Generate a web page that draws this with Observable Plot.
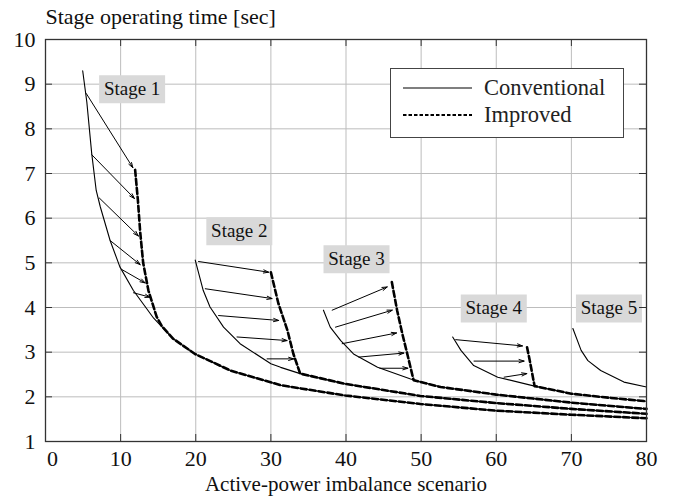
<!DOCTYPE html>
<html><head><meta charset="utf-8">
<script src="https://cdn.jsdelivr.net/npm/d3@7"></script>
<script src="https://cdn.jsdelivr.net/npm/@observablehq/plot@0.6"></script>
<style>
body{margin:0;background:#fff;}
#wrap{position:relative;width:680px;height:497px;}
#legend{position:absolute;left:390px;top:68px;}
</style></head><body><div id="wrap"></div>
<script>
// ---------- data ----------
const xTicks = [0, 10, 20, 30, 40, 50, 60, 70, 80];
const yTicks = [1, 2, 3, 4, 5, 6, 7, 8, 9, 10];
const titleText = "Stage operating time [sec]";
const xLabelText = "Active-power imbalance scenario";
const legendLabels = ["Conventional", "Improved"];

const stageNames = ["Stage 1", "Stage 2", "Stage 3", "Stage 4", "Stage 5"];
const stageLabelX = [11.53, 25.8, 41.4, 59.67, 75.0];
const stageLabelY = [8.887, 5.705, 5.078, 3.98, 3.98];

// conventional curves [x, y]
const stage1Conventional = [[4.95,9.3],[5.5,8.6],[6.15,7.45],[6.75,6.62],[7.3,6.25],[8.6,5.5],[9.9,4.91],[11.7,4.38],[14.4,3.76],[17,3.3],[19.9,2.96],[24.6,2.59],[31.3,2.26],[39.9,2.03],[49.9,1.84],[60,1.69],[70,1.60],[80,1.52]];
const stage2Conventional = [[19.93,5.06],[21.0,4.38],[21.9,4.01],[23.7,3.56],[25.9,3.19],[30,2.74],[31.3,2.66],[33.9,2.52],[39.9,2.29],[49.9,2.02],[60,1.86],[70,1.73],[80,1.62]];
const stage3Conventional = [[37.0,3.94],[37.9,3.56],[39.3,3.26],[41.0,2.96],[44.2,2.66],[48.6,2.40],[52.6,2.22],[60,2.05],[70,1.87],[80,1.73]];
const stage4Conventional = [[54.2,3.34],[55.3,3.04],[57.0,2.70],[60.2,2.44],[65.1,2.24],[70,2.07],[75,1.98],[80,1.90]];
const stage5Conventional = [[70.2,3.53],[71.3,3.04],[72.2,2.81],[73.9,2.59],[77.0,2.33],[80,2.22]];

// improved curves: the part before they rejoin the conventional curve
const stage1ImprovedHead = [[11.93,7.08],[12.3,6.4],[12.6,5.7],[13.0,5.0],[13.7,4.38],[14.8,3.79],[15.5,3.58]];
const stage2ImprovedHead = [[30.0,4.79],[31.0,4.09],[32.2,3.49],[33.0,2.96],[33.9,2.52]];
const stage3ImprovedHead = [[46.1,4.57],[46.8,3.94],[47.5,3.41],[48.2,2.93],[49.0,2.37]];
const stage4ImprovedHead = [[64.1,3.11],[64.5,2.78],[65.1,2.24]];

// arrows [x1, y1, x2, y2]
const stage1Arrows = [[5.43,8.79,11.63,7.13],[6.16,7.42,11.84,6.44],[7.17,6.45,12.37,5.60],[8.6,5.50,12.6,4.96],[10.16,4.85,13.27,4.55],[11.71,4.33,13.93,4.23]];
const stage2Arrows = [[20.37,5.03,29.7,4.79],[21.27,4.42,30.16,4.20],[23.04,3.82,31.04,3.71],[25.49,3.34,32.16,3.26],[29.49,2.85,33.04,2.85]];
const stage3Arrows = [[38.16,3.94,45.49,4.46],[38.6,3.56,46.16,3.94],[39.49,3.19,46.73,3.43],[41.71,2.89,47.71,2.98],[44.51,2.64,48.24,2.64]];
const stage4Arrows = [[54.6,3.28,63.49,3.14],[57.04,2.80,63.71,2.80],[61.04,2.44,64.07,2.52]];

// ---------- tables ----------
const conventional = [stage1Conventional, stage2Conventional, stage3Conventional, stage4Conventional, stage5Conventional];
const improvedHeads = [stage1ImprovedHead, stage2ImprovedHead, stage3ImprovedHead, stage4ImprovedHead];
const convRows = conventional.flatMap((pts, i) => pts.map(([x, y]) => ({stage: i + 1, x, y})));
const impRows = improvedHeads.flatMap((head, i) => {
  const lastX = head[head.length - 1][0];
  const tail = conventional[i].filter(([x]) => x > lastX);
  return [...head, ...tail].map(([x, y]) => ({stage: i + 1, x, y}));
});
const arrowRows = [stage1Arrows, stage2Arrows, stage3Arrows, stage4Arrows].flat().map(([x1, y1, x2, y2]) => ({x1, y1, x2, y2}));
const labelRows = stageNames.map((name, i) => ({name, x: stageLabelX[i], y: stageLabelY[i]}));

// ---------- layout ----------
const W = 680, H = 497, ML = 45, MR = 34, MT = 39, MB = 56;
const innerW = W - ML - MR, innerH = H - MT - MB;
const TICK = 7;
const labelBox = {draw(ctx) { ctx.moveTo(-33, -14); ctx.lineTo(33, -14); ctx.lineTo(33, 14); ctx.lineTo(-33, 14); ctx.closePath(); }};

const chart = Plot.plot({
  width: W, height: H,
  marginLeft: ML, marginRight: MR, marginTop: MT, marginBottom: MB,
  style: {fontFamily: "'Liberation Serif', 'Times New Roman', serif", fontSize: "21px", color: "#111", background: "#fff"},
  x: {domain: [0, 80]},
  y: {domain: [1, 10]},
  marks: [
    Plot.gridX(xTicks, {stroke: "#bdbdbd", strokeOpacity: 1}),
    Plot.gridY(yTicks, {stroke: "#bdbdbd", strokeOpacity: 1}),
    Plot.line(convRows, {x: "x", y: "y", z: "stage", stroke: "#000", strokeWidth: 1.1}),
    Plot.line(impRows, {x: "x", y: "y", z: "stage", stroke: "#000", strokeWidth: 2.6, strokeDasharray: "6,3"}),
    Plot.arrow(arrowRows, {x1: "x1", y1: "y1", x2: "x2", y2: "y2", stroke: "#000", strokeWidth: 1, headLength: 8, headAngle: 35}),
    Plot.dot(labelRows, {x: "x", y: "y", symbol: labelBox, r: 5, fill: "#d9d9d9", stroke: "none"}),
    Plot.text(labelRows, {x: "x", y: "y", text: "name", fontSize: 19, fill: "#111"}),
    Plot.ruleX(xTicks, {x: d => d, insetTop: innerH - TICK, stroke: "#333"}),
    Plot.ruleX(xTicks, {x: d => d, insetBottom: innerH - TICK, stroke: "#333"}),
    Plot.ruleY(yTicks, {y: d => d, insetRight: innerW - TICK, stroke: "#333"}),
    Plot.ruleY(yTicks, {y: d => d, insetLeft: innerW - TICK, stroke: "#333"}),
    Plot.frame({stroke: "#333", strokeWidth: 1.3}),
    Plot.axisX(xTicks.slice(0, 1), {tickSize: 0, tickPadding: 9, label: null, fontSize: 22, dx: 7}),
    Plot.axisX(xTicks.slice(1), {tickSize: 0, tickPadding: 9, label: null, fontSize: 22}),
    Plot.axisY(yTicks, {tickSize: 0, tickPadding: 10, label: null, fontSize: 22}),
    Plot.text([titleText], {frameAnchor: "top-left", dy: -22.4, lineAnchor: "middle", textAnchor: "start", fontSize: 22, fill: "#111"}),
    Plot.text([xLabelText], {frameAnchor: "bottom", dy: 42.3, lineAnchor: "middle", fontSize: 21, fill: "#111"})
  ]
});
const wrap = document.getElementById("wrap");
wrap.appendChild(chart);

// legend overlay
const legend = document.createElement("div");
legend.id = "legend";
legend.innerHTML = `<svg width="234" height="70" style="font-family:'Liberation Serif',serif;font-size:22.5px">
  <rect x="0.5" y="0.5" width="233" height="69" fill="#fff" stroke="#444" stroke-width="1"/>
  <line x1="13" x2="82" y1="20" y2="20" stroke="#000" stroke-width="1.2"/>
  <text x="94" y="27" fill="#222">${legendLabels[0]}</text>
  <line x1="13" x2="82" y1="47" y2="47" stroke="#000" stroke-width="2" stroke-dasharray="3.5,2"/>
  <text x="94" y="54" fill="#222">${legendLabels[1]}</text>
</svg>`;
wrap.appendChild(legend);
</script></body></html>
